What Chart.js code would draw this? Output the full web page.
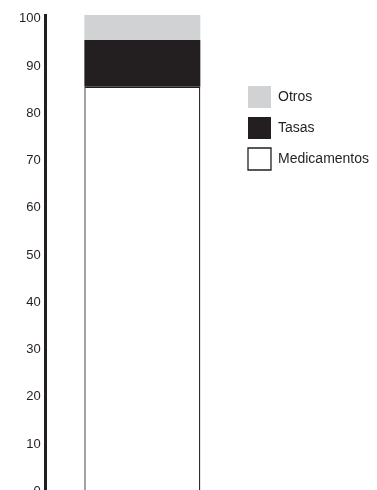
<html>
    <head>
        <meta charset="utf-8">
        <title>Medicamentos, tasas y otros</title>
        <style>
            html, body { margin: 0; padding: 0; background: #fff; overflow: hidden; }
            #wrap { position: relative; width: 377px; height: 504px; }
        </style>
    </head>
    <body>
        <div id="wrap"><canvas id="chart"></canvas></div>
        <script src="https://cdn.jsdelivr.net/npm/chart.js"></script>
        <script type="text/javascript">
            // datos (porcentaje)
            var categories = [""];
            var medicamentos = [85.6];
            var tasas = [9.9];
            var otros = [5.3];
            var yTicks = [0, 10, 20, 30, 40, 50, 60, 70, 80, 90, 100];

            var font = "'Liberation Sans', Arial, sans-serif";

            var ctx = document.getElementById("chart");
            var chart = new Chart(ctx, {
                type: "bar",
                data: {
                    labels: categories,
                    datasets: [
                        { label: "Medicamentos", data: medicamentos, backgroundColor: "#ffffff", borderColor: "#231f20", borderWidth: 1.3, borderSkipped: "bottom" },
                        { label: "Tasas", data: tasas, backgroundColor: "#231f20", borderWidth: 0 },
                        { label: "Otros", data: otros, backgroundColor: "#d1d2d4", borderWidth: 0 }
                    ]
                },
                options: {
                    responsive: true,
                    maintainAspectRatio: false,
                    animation: false,
                    layout: { padding: { top: 15, left: 14, right: 0, bottom: 0 } },
                    datasets: {
                        bar: { barPercentage: 1, categoryPercentage: 0.6 }
                    },
                    scales: {
                        x: { stacked: true, display: false },
                        y: {
                            stacked: true,
                            min: 0,
                            max: 100.8,
                            afterBuildTicks: function (scale) {
                                scale.ticks = yTicks.map(function (v) { return { value: v }; });
                            },
                            grid: { display: false, drawTicks: false },
                            border: { display: true, color: "#231f20", width: 3 },
                            ticks: {
                                color: "#231f20",
                                padding: 5,
                                font: { family: font, size: 13 }
                            }
                        }
                    },
                    plugins: {
                        tooltip: { enabled: false },
                        legend: {
                            position: "right",
                            align: "start",
                            reverse: true,
                            maxWidth: 138,
                            title: { display: true, text: " ", padding: { top: 50, bottom: 0 }, font: { size: 10 } },
                            labels: {
                                color: "#231f20",
                                boxWidth: 23,
                                boxHeight: 22,
                                padding: 9,
                                font: { family: font, size: 14 }
                            }
                        }
                    }
                }
            });
        </script>
    </body>
</html>
